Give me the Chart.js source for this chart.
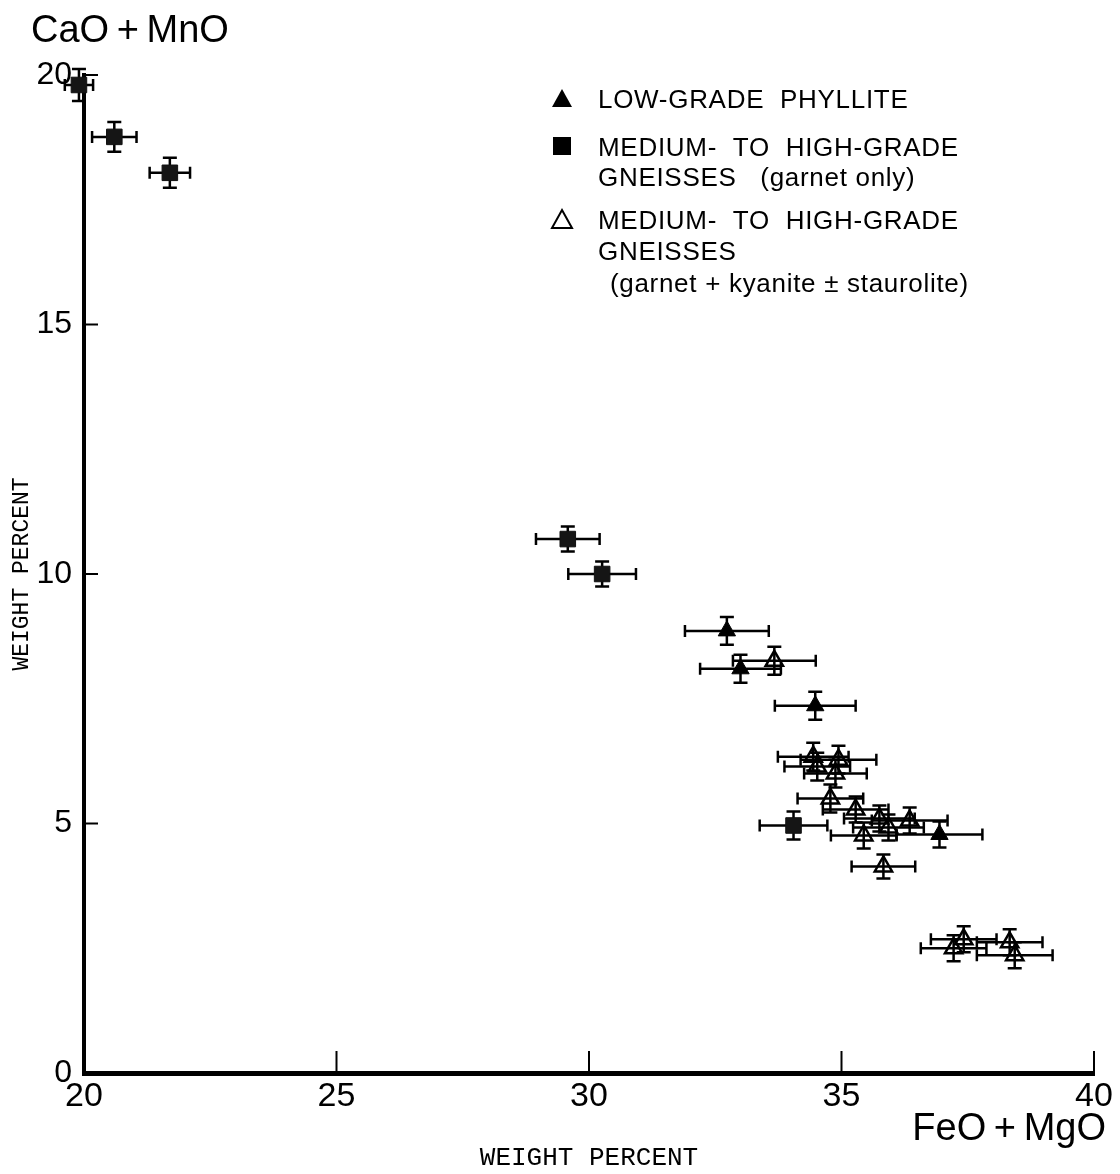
<!DOCTYPE html>
<html>
<head>
<meta charset="utf-8">
<script src="https://cdn.jsdelivr.net/npm/chart.js@4"></script>
<style>
  html, body { margin: 0; padding: 0; background: #fff; }
  #wrap { width: 1120px; height: 1174px; }
</style>
</head>
<body>
<div id="wrap"><canvas id="garnetPlot"></canvas></div>
<script>
const xTicks = [20, 25, 30, 35, 40];
const yTicks = [0, 5, 10, 15, 20];

// low-grade phyllite (filled triangles)
const phylliteX = [32.73, 33.0, 34.48, 36.94];
const phylliteY = [8.86, 8.1, 7.36, 4.78];
const phylliteXErr = [0.83, 0.8, 0.8, 0.85];
const phylliteYErr = [0.28, 0.28, 0.28, 0.26];

// medium- to high-grade gneisses, garnet only (filled squares)
const garnetX = [19.9, 20.6, 21.7, 29.58, 30.26, 34.05];
const garnetY = [19.8, 18.76, 18.04, 10.7, 10.0, 4.96];
const garnetXErr = [0.28, 0.44, 0.4, 0.63, 0.67, 0.67];
const garnetYErr = [0.32, 0.3, 0.3, 0.25, 0.25, 0.28];

// medium- to high-grade gneisses, garnet + kyanite ± staurolite (open triangles)
const kyaniteX = [33.67, 34.44, 34.94, 34.52, 34.88, 34.78, 35.28, 35.75, 36.35, 35.93, 35.44, 35.83, 37.42, 37.22, 38.33, 38.43];
const kyaniteY = [8.26, 6.34, 6.28, 6.14, 6.0, 5.5, 5.28, 5.1, 5.06, 4.92, 4.76, 4.14, 2.68, 2.5, 2.62, 2.36];
const kyaniteXErr = [0.82, 0.7, 0.75, 0.65, 0.62, 0.65, 0.65, 0.7, 0.75, 0.7, 0.65, 0.63, 0.65, 0.65, 0.65, 0.75];
const kyaniteYErr = [0.28, 0.28, 0.28, 0.28, 0.28, 0.28, 0.26, 0.26, 0.26, 0.26, 0.26, 0.24, 0.26, 0.26, 0.26, 0.26];

const legendLines = [
  ["LOW-GRADE  PHYLLITE"],
  ["MEDIUM-  TO  HIGH-GRADE", "GNEISSES   (garnet only)"],
  ["MEDIUM-  TO  HIGH-GRADE", "GNEISSES", " (garnet + kyanite \u00b1 staurolite)"],
];

const sans = "'Liberation Sans', Arial, sans-serif";
const mono = "'Liberation Mono', 'DejaVu Sans Mono', monospace";

function toPoints(xs, ys, xe, ye) {
  return xs.map((x, i) => ({ x: x, y: ys[i], xErr: xe[i], yErr: ye[i] }));
}

const errorBars = {
  id: "errorBars",
  beforeDatasetsDraw(chart) {
    const { ctx, scales } = chart;
    ctx.save();
    ctx.strokeStyle = "#000";
    ctx.lineWidth = 2.5;
    chart.data.datasets.forEach((ds) => {
      ds.data.forEach((p) => {
        const x0 = scales.x.getPixelForValue(p.x - p.xErr);
        const x1 = scales.x.getPixelForValue(p.x + p.xErr);
        const y0 = scales.y.getPixelForValue(p.y - p.yErr);
        const y1 = scales.y.getPixelForValue(p.y + p.yErr);
        const cx = scales.x.getPixelForValue(p.x);
        const cy = scales.y.getPixelForValue(p.y);
        ctx.beginPath();
        ctx.moveTo(x0, cy); ctx.lineTo(x1, cy);
        ctx.moveTo(x0, cy - 6); ctx.lineTo(x0, cy + 6);
        ctx.moveTo(x1, cy - 6); ctx.lineTo(x1, cy + 6);
        ctx.moveTo(cx, y0); ctx.lineTo(cx, y1);
        ctx.moveTo(cx - 7, y0); ctx.lineTo(cx + 7, y0);
        ctx.moveTo(cx - 7, y1); ctx.lineTo(cx + 7, y1);
        ctx.stroke();
      });
    });
    ctx.restore();
  },
};

const decorations = {
  id: "decorations",
  afterDraw(chart) {
    const { ctx, scales, chartArea } = chart;
    ctx.save();
    ctx.strokeStyle = "#000";
    ctx.lineWidth = 2;
    // inward tick marks
    xTicks.slice(1).forEach((v) => {
      const px = scales.x.getPixelForValue(v);
      ctx.beginPath();
      ctx.moveTo(px, chartArea.bottom);
      ctx.lineTo(px, chartArea.bottom - 22);
      ctx.stroke();
    });
    yTicks.slice(1).forEach((v) => {
      const py = scales.y.getPixelForValue(v);
      ctx.beginPath();
      ctx.moveTo(chartArea.left, py);
      ctx.lineTo(chartArea.left + 14, py);
      ctx.stroke();
    });

    // axis names
    ctx.fillStyle = "#000";
    ctx.font = "38px " + sans;
    ctx.textBaseline = "alphabetic";
    ctx.textAlign = "left";
    ctx.fillText("CaO\u2009+\u2009MnO", 31, 42);
    ctx.textAlign = "right";
    ctx.fillText("FeO\u2009+\u2009MgO", 1106, 1140);

    // legend
    ctx.textAlign = "left";
    ctx.font = "26px " + sans;
    ctx.letterSpacing = "0.7px";
    const rows = [[108], [156, 186], [229, 260, 292]];
    legendLines.forEach((lines, i) => {
      lines.forEach((t, j) => ctx.fillText(t, j === 2 ? 602 : 598, rows[i][j]));
    });
    ctx.letterSpacing = "0px";
    ctx.lineWidth = 2;
    // filled triangle
    ctx.beginPath();
    ctx.moveTo(562, 89); ctx.lineTo(572, 107); ctx.lineTo(552, 107); ctx.closePath();
    ctx.fill();
    // filled square
    ctx.fillRect(553, 137, 18, 18);
    // open triangle
    ctx.beginPath();
    ctx.moveTo(562, 210); ctx.lineTo(572, 228); ctx.lineTo(552, 228); ctx.closePath();
    ctx.stroke();
    ctx.restore();
  },
};

new Chart(document.getElementById("garnetPlot").getContext("2d"), {
  type: "scatter",
  data: {
    datasets: [
      {
        label: "Medium- to high-grade gneisses (garnet + kyanite ± staurolite)",
        data: toPoints(kyaniteX, kyaniteY, kyaniteXErr, kyaniteYErr),
        pointStyle: "triangle",
        pointRadius: 10,
        borderColor: "#000",
        borderWidth: 2.5,
        backgroundColor: "rgba(255,255,255,0)",
        clip: false,
      },
      {
        label: "Low-grade phyllite",
        data: toPoints(phylliteX, phylliteY, phylliteXErr, phylliteYErr),
        pointStyle: "triangle",
        pointRadius: 10,
        borderColor: "#000",
        borderWidth: 1,
        backgroundColor: "#000",
        clip: false,
      },
      {
        label: "Medium- to high-grade gneisses (garnet only)",
        data: toPoints(garnetX, garnetY, garnetXErr, garnetYErr),
        pointStyle: "rect",
        pointRadius: 11,
        borderColor: "#111",
        borderWidth: 1,
        backgroundColor: "#151515",
        clip: false,
      },
    ],
  },
  options: {
    responsive: true,
    maintainAspectRatio: false,
    animation: false,
    layout: { padding: { top: 75, right: 26, left: 0, bottom: 0 } },
    plugins: {
      legend: { display: false },
      tooltip: { enabled: false },
    },
    scales: {
      x: {
        type: "linear",
        min: 20,
        max: 40,
        afterFit: (scale) => { scale.height = 101; },
        afterBuildTicks: (scale) => { scale.ticks = xTicks.map((v) => ({ value: v })); },
        grid: { display: false },
        border: { display: true, color: "#000", width: 5 },
        ticks: { color: "#000", padding: -5, font: { family: sans, size: 34 } },
        title: {
          display: true,
          text: "WEIGHT PERCENT",
          color: "#000",
          font: { family: mono, size: 26 },
          padding: { top: 0, bottom: 0 },
        },
      },
      y: {
        type: "linear",
        min: 0,
        max: 20,
        afterFit: (scale) => { scale.width = 84; },
        afterBuildTicks: (scale) => { scale.ticks = yTicks.map((v) => ({ value: v })); },
        grid: { display: false },
        border: { display: true, color: "#000", width: 4 },
        ticks: { color: "#000", padding: 4, font: { family: sans, size: 32 } },
        title: {
          display: true,
          text: "WEIGHT PERCENT",
          color: "#000",
          font: { family: mono, size: 23 },
          padding: { top: 8, bottom: 0 },
        },
      },
    },
  },
  plugins: [errorBars, decorations],
});
</script>
</body>
</html>
